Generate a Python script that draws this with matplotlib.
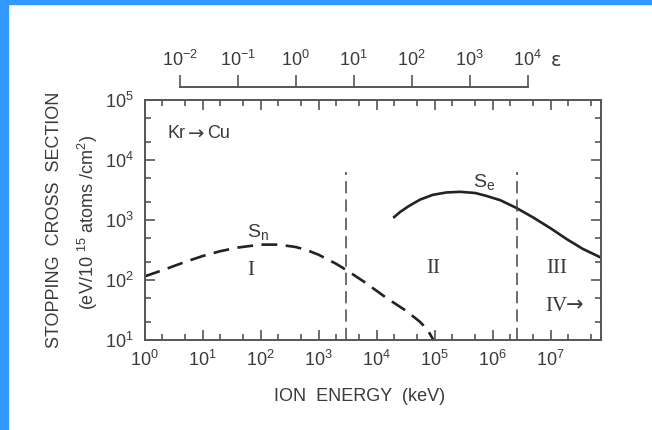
import math
import matplotlib
matplotlib.use("Agg")
import matplotlib.pyplot as plt
from matplotlib import font_manager
from matplotlib.ticker import FixedLocator, LogLocator, FuncFormatter, NullLocator, NullFormatter
from matplotlib.patches import Rectangle

# nuclear stopping S_n (dashed)
sn_energy = [1, 2, 5.25, 10, 20, 40, 100, 200, 400, 620, 1000, 1380, 2000,
             2950, 6300, 14800, 31600, 56000, 76000, 95000]
sn_values = [115, 145, 204, 251, 302, 347, 389, 389, 355, 316, 263, 224, 186,
             148, 91, 50, 31, 20, 14.5, 10]

# electronic stopping S_e (solid)
se_energy = [2.0e4, 2.5e4, 3.55e4, 5.6e4, 9.3e4, 1.6e5, 2.75e5, 5e5, 7.9e5,
             1.35e6, 2.57e6, 5e6, 1e7, 1.9e7, 3.55e7, 7.1e7]
se_values = [1120, 1350, 1700, 2190, 2630, 2880, 2950, 2820, 2510,
             2140, 1585, 1100, 725, 478, 331, 240]

# region borders (keV) and the top of the border lines
borders = [2950, 2.57e6]
border_top = 6300

# reduced energy scale: eps = E / e0
e0 = 400.0
eps_ticks = [1e-2, 1e-1, 1e0, 1e1, 1e2, 1e3, 1e4]

installed = {f.name for f in font_manager.fontManager.ttflist}
sans = 'Liberation Sans Narrow' if 'Liberation Sans Narrow' in installed else 'Liberation Sans'
plt.rcParams['font.family'] = [sans, 'DejaVu Sans']
plt.rcParams['mathtext.fontset'] = 'custom'
plt.rcParams['mathtext.rm'] = sans
plt.rcParams['mathtext.it'] = sans
plt.rcParams['axes.unicode_minus'] = False
serif = ['Liberation Serif', 'DejaVu Serif']

txt = '#3a3a3a'
axc = '#555555'

fig = plt.figure(figsize=(6.52, 4.30), dpi=100)
fig.patches.append(Rectangle((0, 0), 8 / 652, 1, transform=fig.transFigure,
                             color='#3399ff', zorder=0))
fig.patches.append(Rectangle((0, 1 - 4 / 430), 1, 4 / 430, transform=fig.transFigure,
                             color='#3399ff', zorder=0))

ax = fig.add_axes([0.222, 0.2093, 0.700, 0.5581])
ax.set_xscale('log')
ax.set_yscale('log')
ax.set_xlim(1, 7.4e7)
ax.set_ylim(10, 1e5)

ax.plot(sn_energy, sn_values, color='#222222', lw=1.9, dashes=(6, 3.2))
ax.plot(se_energy, se_values, color='#222222', lw=1.9)
ax.vlines(borders, 10, border_top, colors='#444444', lw=1.1, linestyles=(0, (8, 4)))

fmt = FuncFormatter(lambda v, p: r'$\mathregular{10^{%d}}$' % round(math.log10(v)))
for axis in (ax.xaxis, ax.yaxis):
    axis.set_major_locator(LogLocator(base=10, numticks=20))
    axis.set_minor_locator(LogLocator(base=10, subs=(2, 5), numticks=20))
    axis.set_major_formatter(fmt)
    axis.set_minor_formatter(NullFormatter())
ax.tick_params(which='both', direction='in', top=True, right=True, color=axc,
               width=1.2, labelsize=13, labelcolor=txt)
ax.tick_params(which='major', length=7)
ax.tick_params(which='minor', length=4)
ax.tick_params(axis='x', pad=7)
ax.tick_params(axis='y', pad=8)
for s in ax.spines.values():
    s.set_color(axc)
    s.set_linewidth(1.4)

# epsilon scale above the frame
sec = ax.secondary_xaxis(1.055, functions=(lambda e: e / e0, lambda x: x * e0))
sec.xaxis.set_major_locator(FixedLocator(eps_ticks))
sec.xaxis.set_minor_locator(NullLocator())
sec.xaxis.set_major_formatter(fmt)
sec.spines['top'].set_bounds(eps_ticks[0], eps_ticks[-1])
sec.spines['top'].set_color(axc)
sec.spines['top'].set_linewidth(1.4)
sec.tick_params(direction='out', length=9, width=1.2, color=axc,
                labelsize=13, labelcolor=txt, pad=3)
ax.text(0.90, 1.163, 'ε', transform=ax.transAxes, fontsize=14, color=txt,
        family=['DejaVu Sans'], va='center', ha='center')

# annotations
ax.text(0.05, 0.86, 'Kr', transform=ax.transAxes, fontsize=13, color=txt,
        va='center', ha='left')
ax.text(0.095, 0.857, '\u2192', transform=ax.transAxes, fontsize=14, color=txt,
        family=['DejaVu Sans'], va='center', ha='left')
ax.text(0.137, 0.86, 'Cu', transform=ax.transAxes, fontsize=13, color=txt,
        va='center', ha='left')
ax.text(0.248, 0.45, 'S$_\\mathregular{n}$', transform=ax.transAxes, fontsize=14, color=txt,
        va='center', ha='center')
ax.text(0.743, 0.66, 'S$_\\mathregular{e}$', transform=ax.transAxes, fontsize=14, color=txt,
        va='center', ha='center')
ax.text(0.232, 0.29, 'I', transform=ax.transAxes, fontsize=15, color=txt,
        family=serif, va='center', ha='center')
ax.text(0.633, 0.30, 'II', transform=ax.transAxes, fontsize=15, color=txt,
        family=serif, va='center', ha='center')
ax.text(0.903, 0.30, 'III', transform=ax.transAxes, fontsize=15, color=txt,
        family=serif, va='center', ha='center')
ax.text(0.925, 0.14, 'IV', transform=ax.transAxes, fontsize=15, color=txt,
        family=serif, va='center', ha='right')
ax.text(0.922, 0.143, '\u2192', transform=ax.transAxes, fontsize=15, color=txt,
        family=['DejaVu Sans'], va='center', ha='left')

fig.text(0.084, 0.488, 'STOPPING  CROSS  SECTION', rotation=90, fontsize=13,
         color=txt, ha='center', va='center')
fig.text(0.135, 0.484, '(eV/10 $^{15}$ atoms /cm$^{2}$)', rotation=90, fontsize=13,
         color=txt, ha='center', va='center')
fig.text(0.552, 0.077, 'ION  ENERGY  (keV)', fontsize=13, color=txt,
         ha='center', va='center')

fig.savefig('out.png', dpi=100)
